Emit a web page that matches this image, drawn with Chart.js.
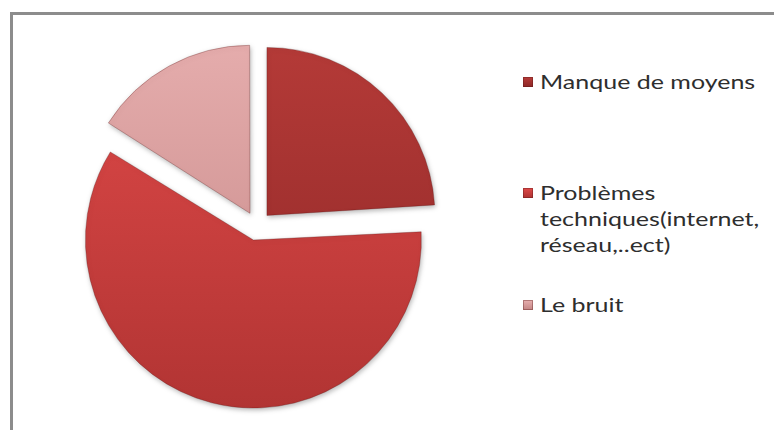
<!DOCTYPE html>
<html>
<head>
<meta charset="utf-8">
<script src="https://cdn.jsdelivr.net/npm/chart.js@4/dist/chart.umd.min.js"></script>
<style>
  html, body { margin: 0; padding: 0; background: #fff; }
  body { width: 774px; height: 430px; position: relative; overflow: hidden; }
  #frame {
    position: absolute; left: 10px; top: 12px; width: 800px; height: 460px;
    border-top: 3px solid #8c8c8c; border-left: 3px solid #8c8c8c;
  }
  #chartBox { position: absolute; left: 0; top: 0; width: 514px; height: 430px; }
  #legend {
    position: absolute; left: 523px; top: 0; width: 260px; height: 430px;
    font-family: "Lato", "Liberation Sans", sans-serif; font-size: 20px; color: #2e2e2e;
  }
  .item { position: absolute; left: 0; line-height: 26px; }
  .item .box {
    position: absolute; left: 0; top: 8px; width: 10px; height: 10px;
  }
  .item .txt { position: absolute; left: 17px; top: -1px; white-space: nowrap; transform-origin: 0 0; }
</style>
</head>
<body>
<div id="frame"></div>
<div id="chartBox"><canvas id="chart"></canvas></div>
<div id="legend"></div>
<script>
// data (share of answers, %)
const labels = ["Manque de moyens", "Problèmes techniques(internet, réseau,..ect)", "Le bruit"];
const legendLines = [["Manque de moyens"], ["Problèmes", "techniques(internet,", "réseau,..ect)"], ["Le bruit"]];
const values = [24, 60, 16];

// top / bottom colours of each slice
const topColors = ["#b83c39", "#e04a49", "#e8b0b0"];
const bottomColors = ["#8c2626", "#ad3231", "#c38584"];
const legendTops = [69, 180, 292];

function sliceFill(ctx) {
  const i = ctx.dataIndex;
  const area = ctx.chart.chartArea;
  if (!area) return topColors[i];
  const g = ctx.chart.ctx.createLinearGradient(0, area.top, 0, area.bottom);
  g.addColorStop(0, topColors[i]);
  g.addColorStop(1, bottomColors[i]);
  return g;
}

// soft shadow under the slices, like the bevelled office chart
const shadowPlugin = {
  id: "sliceShadow",
  beforeDatasetsDraw(chart) {
    const c = chart.ctx;
    c.save();
    c.shadowColor = "rgba(0,0,0,0.28)";
    c.shadowBlur = 5;
    c.shadowOffsetX = 1;
    c.shadowOffsetY = 2;
  },
  afterDatasetsDraw(chart) {
    chart.ctx.restore();
  },
};

// chart.js grows big exploded slices by the offset; keep all slices the same radius
const sameRadiusPlugin = {
  id: "sameRadius",
  afterDatasetsUpdate(chart) {
    chart.getDatasetMeta(0).data.forEach((arc) => {
      const off = (arc.options.offset || 0) / 4;
      const fix = 1 - Math.sin(Math.min(Math.PI, arc.circumference || 0));
      arc.outerRadius = arc.outerRadius - off * fix;
    });
  },
};

let chart;

function drawChart() {
  let ctx = document.getElementById("chart");
  chart = new Chart(ctx, {
    type: "pie",
    data: {
      labels: labels,
      datasets: [
        {
          data: values,
          backgroundColor: sliceFill,
          borderColor: "rgba(90,20,20,0.3)",
          borderWidth: 1,
          offset: 58,
        },
      ],
    },
    options: {
      responsive: true,
      maintainAspectRatio: false,
      animation: false,
      radius: 168,
      layout: { padding: { top: 22, bottom: 0, left: 0, right: 0 } },
      plugins: {
        legend: { display: false },
        tooltip: { enabled: false },
      },
    },
    plugins: [shadowPlugin, sameRadiusPlugin],
  });
}

// html legend built from the same arrays
function drawLegend() {
  const legend = document.getElementById("legend");
  legendLines.forEach((lines, i) => {
    const item = document.createElement("div");
    item.className = "item";
    item.style.top = legendTops[i] + "px";
    const box = document.createElement("div");
    box.className = "box";
    box.style.background = `linear-gradient(${topColors[i]}, ${bottomColors[i]})`;
    box.style.boxShadow = "inset 0 0 0 1px rgba(80,20,20,0.35)";
    const txt = document.createElement("div");
    txt.className = "txt";
    txt.innerHTML = lines.join("<br>");
    txt.style.transform = "scaleX(1.25)";
    item.appendChild(box);
    item.appendChild(txt);
    legend.appendChild(item);
  });
}

drawChart();
drawLegend();
</script>
</body>
</html>
